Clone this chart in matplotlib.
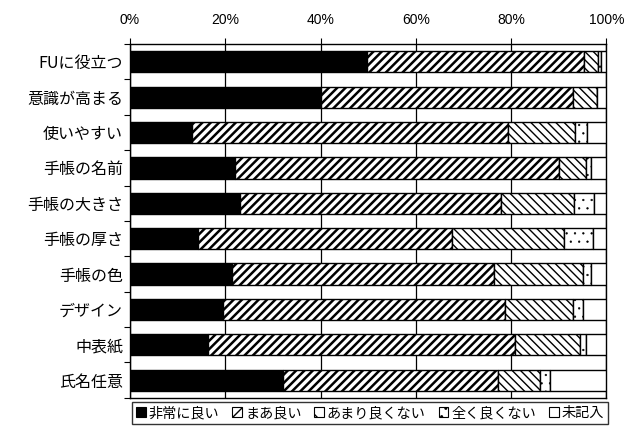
import matplotlib
matplotlib.use("Agg")
import matplotlib.pyplot as plt
import numpy as np
from matplotlib.patches import Patch

plt.rcParams['font.family'] = ['Noto Sans CJK JP', 'DejaVu Sans']

categories = ['FUに役立つ', '意識が高まる', '使いやすい', '手帳の名前', '手帳の大きさ',
              '手帳の厚さ', '手帳の色', 'デザイン', '中表紙', '氏名任意']
series_names = ['非常に良い', 'まあ良い', 'あまり良くない', '全く良くない', '未記入']

very_good = [49.7, 40.0, 13.1, 22.1, 23.0, 14.2, 21.5, 19.5, 16.3, 32.1]
fairly_good = [45.6, 53.1, 66.3, 67.9, 54.8, 53.4, 55.0, 59.2, 64.5, 45.1]
not_very_good = [3.0, 5.0, 14.1, 5.8, 15.5, 23.6, 18.6, 14.3, 13.6, 8.8]
not_good_at_all = [0.7, 0.0, 2.5, 0.9, 4.1, 6.0, 1.7, 2.1, 1.4, 2.1]
no_answer = [1.0, 1.9, 4.0, 3.3, 2.6, 2.8, 3.2, 4.9, 4.2, 11.9]

xticks = [0, 20, 40, 60, 80, 100]
xtick_labels = ['0%', '20%', '40%', '60%', '80%', '100%']

series = [very_good, fairly_good, not_very_good, not_good_at_all, no_answer]
styles = [
    dict(facecolor='black', hatch=None, hlw=1.0),
    dict(facecolor='white', hatch='////', hlw=1.8),
    dict(facecolor='white', hatch='\\\\\\\\', hlw=1.0),
    dict(facecolor='white', hatch='..', hlw=0.4),
    dict(facecolor='white', hatch=None, hlw=1.0),
]

fig = plt.figure(figsize=(6.25, 4.32), dpi=100)
ax = fig.add_axes([0.208, 0.079, 0.762, 0.819])

y = np.arange(len(categories))
left = np.zeros(len(categories))
for vals, st in zip(series, styles):
    vals = np.array(vals)
    plt.rcParams['hatch.linewidth'] = st['hlw']
    bars = ax.barh(y, vals, left=left, height=0.6, color=st['facecolor'],
                   edgecolor='black', linewidth=1.0, hatch=st['hatch'], zorder=3)
    for b in bars:
        try:
            b.set_hatch_linewidth(st['hlw'])
        except AttributeError:
            pass
    left += vals

ax.set_xlim(0, 100)
ax.set_ylim(len(categories) - 0.5, -0.5)
ax.xaxis.tick_top()
ax.set_xticks(xticks)
ax.set_xticklabels(xtick_labels, fontsize=10, family=['Liberation Sans', 'DejaVu Sans'])
ax.tick_params(axis='x', direction='out', length=4, width=0.8, pad=8)
ax.grid(axis='x', color='black', linewidth=0.9, zorder=0)

ax.set_yticks(y)
ax.set_yticklabels(categories, fontsize=11.5)
ax.tick_params(axis='y', which='major', length=0, pad=5)
ax.set_yticks(np.arange(-0.5, len(categories) + 0.5, 1), minor=True)
ax.tick_params(axis='y', which='minor', direction='out', length=4, width=0.8)

for s in ax.spines.values():
    s.set_color('black')
    s.set_linewidth(1.0)

handles = []
for st in styles:
    plt.rcParams['hatch.linewidth'] = min(st['hlw'], 1.0)
    h = Patch(facecolor=st['facecolor'], edgecolor='black',
              hatch=(st['hatch'][:2] if st['hatch'] else None), linewidth=0.8)
    handles.append(h)
leg = fig.legend(handles, series_names, loc='center', bbox_to_anchor=(0.592, 0.044),
                 ncol=5, fontsize=10.2, frameon=True, fancybox=False,
                 handlelength=0.7, handleheight=0.7, handletextpad=0.2,
                 columnspacing=0.9, borderpad=0.3, borderaxespad=0)
leg.get_frame().set_edgecolor('black')
leg.get_frame().set_linewidth(1.0)

fig.savefig('out.png', dpi=100)
